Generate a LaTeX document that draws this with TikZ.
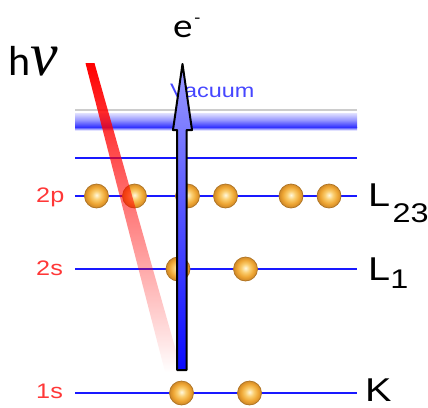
\documentclass[tikz,border=0pt]{standalone}
\usepackage{fontspec}
\setmainfont{Liberation Sans}
\newfontfamily\calibri{Carlito}
\newfontfamily\nufont{Liberation Serif}
\usetikzlibrary{fadings}
\definecolor{lvl}{RGB}{25,25,255}
\definecolor{lbl}{RGB}{255,55,55}
\definecolor{vac}{RGB}{70,70,255}
\definecolor{ballhi}{RGB}{255,248,222}
\definecolor{ballmid}{RGB}{250,205,110}
\definecolor{ballout}{RGB}{238,165,50}
\definecolor{balledge}{RGB}{205,135,40}
\definecolor{arrtop}{RGB}{155,155,255}
\definecolor{arrbot}{RGB}{10,10,255}
\definecolor{bandtop}{RGB}{225,225,255}
\definecolor{bandmid}{RGB}{150,150,255}
\definecolor{bandbot}{RGB}{50,50,255}
\pgfdeclareradialshading{eballshade}{\pgfpoint{0bp}{2bp}}{color(0bp)=(ballhi); color(9bp)=(ballmid); color(18bp)=(ballout); color(25bp)=(balledge); color(50bp)=(balledge)}
\tikzfading[name=beamfade, top color=transparent!0, middle color=transparent!35, bottom color=transparent!100]
\begin{document}
\begin{tikzpicture}[x=1pt,y=-1pt,
  level/.style={draw=lvl, line width=2.2pt},
  electron/.style={circle, minimum size=24pt, inner sep=0pt, shading=eballshade, draw=balledge!85!black, line width=0.7pt},
  lefttxt/.style={text=lbl, font=\fontsize{21}{21}\selectfont, xscale=1.2, anchor=base west, inner sep=0pt},
  righttxt/.style={font=\fontsize{33}{33}\selectfont, xscale=1.2, anchor=base west, inner sep=0pt}]
\useasboundingbox (0,0) rectangle (428,407);
% vacuum level
\draw[black!20, line width=2pt] (75,110) -- (357,110);
\shade[top color=bandtop, bottom color=bandbot, middle color=bandmid] (75,113) rectangle (357,127);
\shade[top color=bandbot, bottom color=bandtop] (75,127) rectangle (357,130);
\node[text=vac, font=\fontsize{19.5}{19.5}\selectfont, xscale=1.2, anchor=base west, inner sep=0pt] (vacuum) at (170,97) {Vacuum};
% levels
\draw[level] (75,158) -- (357,158);
\draw[level] (75,196) -- (357,196);
\draw[level] (75,269) -- (357,269);
\draw[level] (75,393) -- (357,393);
% labels
\node[lefttxt] (l2p) at (36,202) {2p};
\node[lefttxt] (l2s) at (36,275) {2s};
\node[lefttxt] (l1s) at (36,398) {1s};
\node[righttxt] (L23) at (368,206) {L\kern2pt\raisebox{-16pt}{\fontsize{27}{27}\selectfont 23}};
\node[righttxt] (L1) at (368,280) {L\raisebox{-8pt}{\fontsize{27}{27}\selectfont 1}};
\node[righttxt] (K) at (365,401) {K};
% electrons
\foreach \x/\n in {96.5/a,134.5/b,187.5/c,225.5/d,291/e,329/f}
  \node[electron] (p\n) at (\x,196) {};
\node[electron] (s2a) at (178,269) {};
\node[electron] (s2b) at (245.5,269) {};
\node[electron] (s1a) at (181.5,393) {};
\node[electron] (s1b) at (249.5,393) {};
% photon beam
\fill[red, path fading=beamfade] (85.5,63) -- (94.5,63) -- (182,372) -- (165,372) -- cycle;
% electron arrow
\shadedraw[top color=arrtop, bottom color=arrbot, draw=black, line width=2pt, line join=round]
  (182.5,64) -- (192,130) -- (186.7,130) -- (186.7,370) -- (177.2,370) -- (177.2,130) -- (173,130) -- cycle;
% texts
\node[font=\calibri\fontsize{34}{34}\selectfont, anchor=base west, inner sep=0pt, xscale=1.15] (e) at (173,37) {e\kern1.5pt\raisebox{14pt}{\fontsize{17}{17}\selectfont -}};
\node[font=\calibri\fontsize{42}{42}\selectfont, anchor=base west, inner sep=0pt] (h) at (8,75) {h};
\node[font=\nufont\itshape\fontsize{62}{62}\selectfont, anchor=base west, inner sep=0pt] (nu) at (30,75) {ν};
\end{tikzpicture}
\end{document}
